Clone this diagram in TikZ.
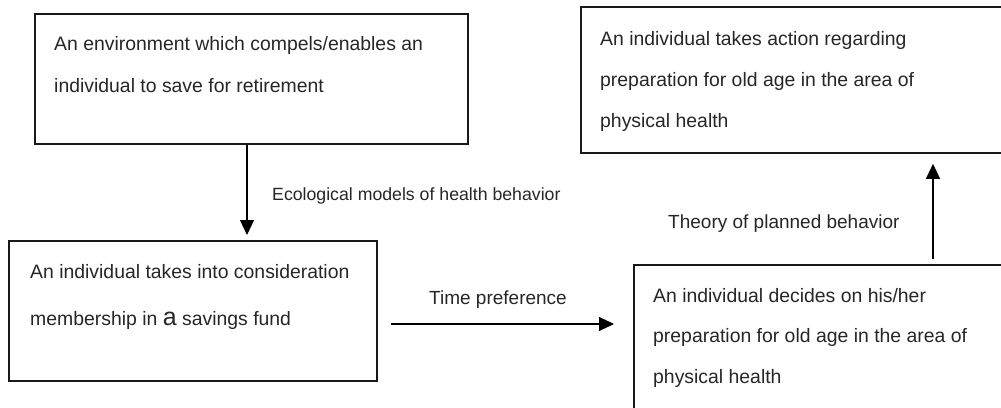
\documentclass[tikz,border=0pt]{standalone}
\usepackage{fontspec}
\setmainfont{Liberation Sans}
\usetikzlibrary{arrows.meta}
\begin{document}
\begin{tikzpicture}[x=1pt,y=-1pt,
  box/.style={draw=black!90, line width=1.8pt, rectangle, inner sep=0pt, anchor=north west},
  txt/.style={inner sep=0pt, anchor=base west, align=left, text=black!85},
  lbl/.style={inner sep=0pt, anchor=base west, font=\fontsize{19}{22}\selectfont, text=black!85},
  arr/.style={line width=1.1pt, draw=black, -{Triangle[length=15pt,width=14pt]}}]
\useasboundingbox (0,0) rectangle (1001,407);
\clip (0,0) rectangle (1001,407);
% boxes
\node[box, minimum width=433pt, minimum height=130pt] (b1) at (34,13) {};
\node[box, minimum width=430pt, minimum height=146pt] (b2) at (580,6) {};
\node[box, minimum width=368pt, minimum height=140pt] (b3) at (8,240) {};
\node[box, minimum width=380pt, minimum height=160pt] (b4) at (633,264) {};
% texts (anchored at the baseline of their last line)
\node[txt, font=\fontsize{19.4}{42}\selectfont] (t1) at (54,92)
  {An environment which compels/enables an\\individual to save for retirement};
\node[txt, font=\fontsize{19.4}{41}\selectfont] (t2) at (600,127)
  {An individual takes action regarding\\preparation for old age in the area of\\physical health};
\node[txt, font=\fontsize{19.4}{47}\selectfont] (t3) at (30,325)
  {An individual takes into consideration\\membership in {\fontsize{25}{25}\selectfont a} savings fund};
\node[txt, font=\fontsize{19.4}{40.5}\selectfont] (t4) at (653,383)
  {An individual decides on his/her\\preparation for old age in the area of\\physical health};
% connector labels
\node[lbl, font=\fontsize{17.7}{20}\selectfont] (l1) at (272,200) {Ecological models of health behavior};
\node[lbl] (l2) at (429,304) {Time preference};
\node[lbl] (l3) at (668,228) {Theory of planned behavior};
% connectors
\coordinate (x1) at (247,0);
\coordinate (y2) at (0,324);
\coordinate (x3) at (933,0);
\draw[arr, shorten >=5pt] (x1 |- b1.south) -- (x1 |- b3.north);
\draw[arr, shorten <=13pt, shorten >=19pt] (y2 -| b3.east) -- (y2 -| b4.west);
\draw[arr, shorten <=5pt, shorten >=10pt] (x3 |- b4.north) -- (x3 |- b2.south);
\end{tikzpicture}
\end{document}
